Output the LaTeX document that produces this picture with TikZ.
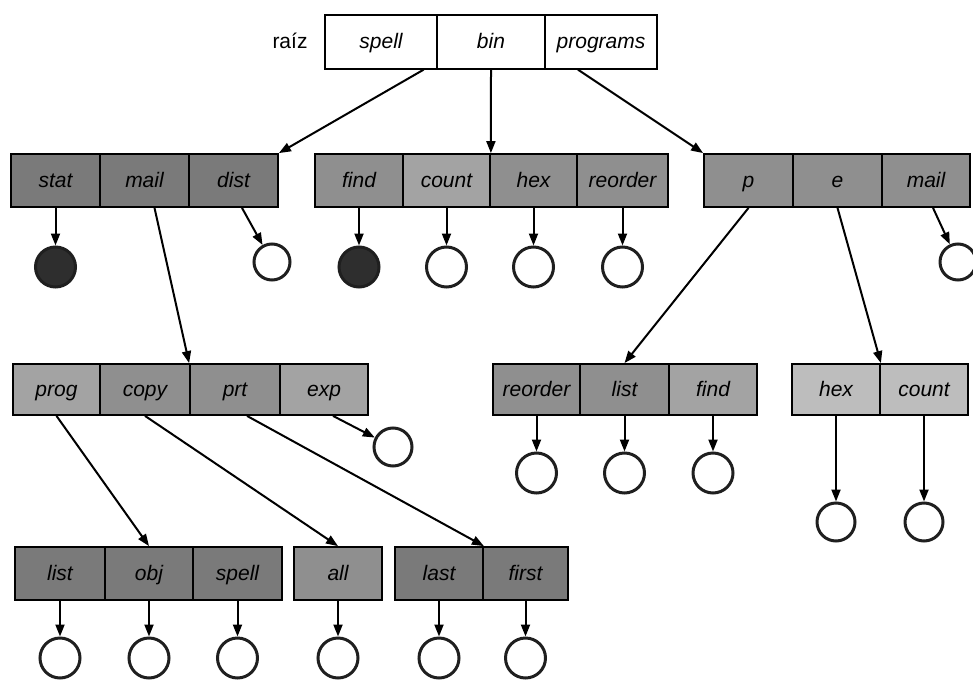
\documentclass[tikz,border=0pt]{standalone}
\usepackage{fontspec}
\setmainfont{Liberation Sans}
\usetikzlibrary{arrows.meta}
\begin{document}
\begin{tikzpicture}[x=1pt,y=-1pt,
  cell/.style={draw=black, line width=1.8pt, inner sep=0pt, text height=16pt, text depth=2pt, font=\fontsize{21}{24}\selectfont\itshape},
  rw2/.style={cell, minimum height=53pt},
  rw3/.style={cell, minimum height=51pt},
  leaf/.style={circle, draw=black!88, line width=3pt, fill=white, inner sep=0pt, minimum size=#1},
  leaf/.default=40pt,
  full/.style={leaf=40pt, fill=black!82},
  arr/.style={line width=2pt, -{Triangle[length=12pt,width=9pt]}},
  dkA/.style={fill=black!52},
  dkB/.style={fill=black!44},
  dkC/.style={fill=black!36},
  dkD/.style={fill=black!26}]
\useasboundingbox (0,0) rectangle (973,679);

% root
\node[font=\fontsize{21}{24}\selectfont, text height=16pt, text depth=2pt, inner sep=0pt] (raiz) at (290,42) {raíz};
\node[cell, fill=white, line width=1.3pt, minimum height=54pt, minimum width=112pt] (spell) at (381,42) {spell};
\node[cell, fill=white, line width=1.3pt, minimum height=54pt, minimum width=108pt] (bin) at (491,42) {bin};
\node[cell, fill=white, line width=1.3pt, minimum height=54pt, minimum width=112pt] (programs) at (601,42) {programs};

% row 2
\node[rw2, dkA, minimum width=89pt] (stat) at (55.5,180.5) {stat};
\node[rw2, dkA, minimum width=89pt] (mailA) at (144.5,180.5) {mail};
\node[rw2, dkA, minimum width=89pt] (dist) at (233.5,180.5) {dist};
\node[rw2, dkB, minimum width=88pt] (find) at (359,180.5) {find};
\node[rw2, dkC, minimum width=87pt] (count) at (446.5,180.5) {count};
\node[rw2, dkB, minimum width=87pt] (hex) at (533.5,180.5) {hex};
\node[rw2, dkB, minimum width=91pt] (reorder) at (622.5,180.5) {reorder};
\node[rw2, dkB, minimum width=89pt] (p) at (748.5,180.5) {p};
\node[rw2, dkB, minimum width=89pt] (e) at (837.5,180.5) {e};
\node[rw2, dkB, minimum width=88pt] (mailB) at (926,180.5) {mail};

% row 3
\node[rw3, dkC, minimum width=87pt] (prog) at (56.5,389.5) {prog};
\node[rw3, dkB, minimum width=90pt] (copy) at (145,389.5) {copy};
\node[rw3, dkB, minimum width=90pt] (prt) at (235,389.5) {prt};
\node[rw3, dkC, minimum width=88pt] (exp) at (324,389.5) {exp};
\node[rw3, dkB, minimum width=87pt] (reorderB) at (536.5,389.5) {reorder};
\node[rw3, dkB, minimum width=89pt] (list) at (624.5,389.5) {list};
\node[rw3, dkC, minimum width=88pt] (findB) at (713,389.5) {find};
\node[rw3, dkD, minimum width=88pt] (hexB) at (836,389.5) {hex};
\node[rw3, dkD, minimum width=88pt] (countB) at (924,389.5) {count};

% row 4
\node[rw2, dkA, minimum width=90pt] (listB) at (60,573.5) {list};
\node[rw2, dkA, minimum width=88pt] (obj) at (149,573.5) {obj};
\node[rw2, dkA, minimum width=89pt] (spellB) at (237.5,573.5) {spell};
\node[rw2, dkB, minimum width=88pt] (all) at (338,573.5) {all};
\node[rw2, dkA, minimum width=88pt] (last) at (439,573.5) {last};
\node[rw2, dkA, minimum width=85pt] (first) at (525.5,573.5) {first};

% leaves
\node[full] (c-stat) at (55.5,267) {};
\node[leaf=36pt] (c-dist) at (272,262) {};
\node[full] (c-find) at (359,267) {};
\node[leaf] (c-count) at (446.5,267) {};
\node[leaf] (c-hex) at (533.5,267) {};
\node[leaf] (c-reorder) at (622.5,267) {};
\node[leaf=36pt] (c-mailB) at (958,262) {};
\node[leaf=38pt] (c-exp) at (393,447) {};
\node[leaf] (c-reorderB) at (536.5,473) {};
\node[leaf] (c-list) at (624.5,473) {};
\node[leaf] (c-findB) at (713,473) {};
\node[leaf=38pt] (c-hexB) at (836,522) {};
\node[leaf=38pt] (c-countB) at (924,522) {};
\node[leaf] (c-listB) at (60,658) {};
\node[leaf] (c-obj) at (149,658) {};
\node[leaf] (c-spellB) at (237.5,658) {};
\node[leaf] (c-all) at (338,658) {};
\node[leaf] (c-last) at (439,658) {};
\node[leaf] (c-first) at (525.5,658) {};

% connectors between directories
\draw[arr] ([xshift=-14pt]spell.south east) -- (dist.north east);
\draw[arr] (bin.south) -- (count.north east);
\draw[arr] ([xshift=-23pt]programs.south) -- (p.north west);
\draw[arr] ([xshift=10pt]mailA.south) -- (prt.north west);
\draw[arr] (p.south) -- (list.north);
\draw[arr] (e.south) -- (hexB.north east);
\draw[arr] (prog.south) -- (obj.north);
\draw[arr] (copy.south) -- (all.north);
\draw[arr] ([xshift=12pt]prt.south) -- (last.north east);

% connectors to files
\draw[arr] (stat.south) -- (c-stat);
\draw[arr] ([xshift=8.5pt]dist.south) -- (c-dist);
\draw[arr] (find.south) -- (c-find);
\draw[arr] (count.south) -- (c-count);
\draw[arr] (hex.south) -- (c-hex);
\draw[arr] (reorder.south) -- (c-reorder);
\draw[arr] ([xshift=7pt]mailB.south) -- (c-mailB);
\draw[arr] ([xshift=9pt]exp.south) -- (c-exp);
\draw[arr] (reorderB.south) -- (c-reorderB);
\draw[arr] (list.south) -- (c-list);
\draw[arr] (findB.south) -- (c-findB);
\draw[arr] (hexB.south) -- (c-hexB);
\draw[arr] (countB.south) -- (c-countB);
\draw[arr] (listB.south) -- (c-listB);
\draw[arr] (obj.south) -- (c-obj);
\draw[arr] (spellB.south) -- (c-spellB);
\draw[arr] (all.south) -- (c-all);
\draw[arr] (last.south) -- (c-last);
\draw[arr] (first.south) -- (c-first);
\end{tikzpicture}
\end{document}
